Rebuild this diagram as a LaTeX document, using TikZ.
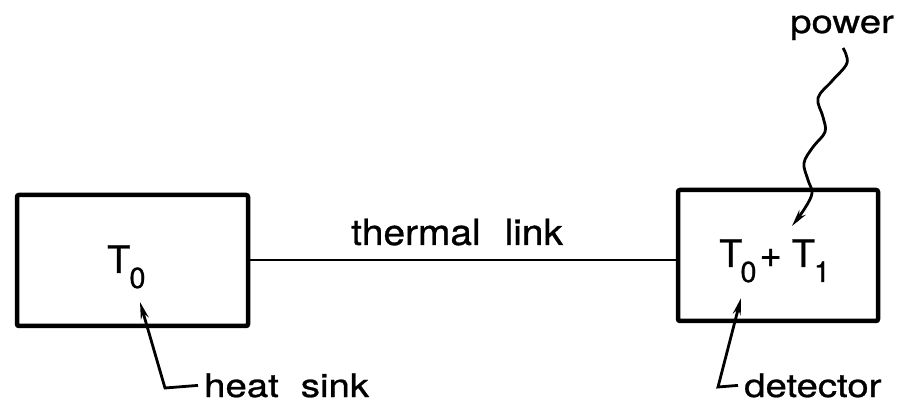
\documentclass[tikz,border=0pt]{standalone}
\usepackage{graphicx}
\usepackage{fontspec}
\setmainfont{TeX Gyre Heros}
\newfontfamily\lblfont{TeX Gyre Heros}[FakeBold=0.8]
\usetikzlibrary{arrows.meta}
% horizontally widened lettering
\newcommand\wide[2][1.18]{\scalebox{#1}[1]{#2}}
\newcommand\sub[1]{\raisebox{-15pt}{\fontsize{29}{30}\selectfont #1}}
\begin{document}
\begin{tikzpicture}[x=1pt,y=-1pt,
  box/.style={draw,line width=4.5pt,rounded corners=2pt},
  lbl/.style={font=\lblfont\fontsize{32.5}{36}\selectfont,inner sep=0pt},
  temp/.style={font=\lblfont\fontsize{38}{40}\selectfont,inner sep=0pt},
  leader/.style={line width=2.8pt,-{Stealth[length=17pt,width=8pt]}},
  link/.style={line width=2.8pt}]
\useasboundingbox (0,0) rectangle (899,411);
% heat sink and detector
\draw[box] (17,195) rectangle (248,326);
\draw[box] (678,190) rectangle (878,321);
\coordinate (sinkE) at (248,260);
\coordinate (detW) at (678,260);
\node[temp,anchor=base west] (t0) at (107,273) {T\kern-1pt\sub{0}};
\node[temp,anchor=base west] (t01) at (719,267) {T\kern-2pt\sub{0}\kern3pt+\kern10ptT\kern-1pt\sub{1}};
% thermal link
\draw[link] (sinkE) -- (detW);
\node[lbl,font=\lblfont\fontsize{36}{40}\selectfont,anchor=base west] (linklbl) at (351,245)
  {\wide[1.08]{thermal}\hspace{24pt}\wide[1.08]{link}};
% labels with leaders
\node[lbl,anchor=base west] (sink) at (204,397) {\wide{heat}\hspace{22pt}\wide{sink}};
\node[lbl,anchor=base west] (det) at (744,397) {\wide{detector}};
\coordinate (sinkC) at (165,388);
\coordinate (sinkT) at (140,302);
\coordinate (detC) at (718,387);
\coordinate (detT) at (741,298);
\draw[leader] ([xshift=-6pt]sink.west) -- (sinkC) -- (sinkT);
\draw[leader] ([xshift=-6pt]det.west) -- (detC) -- (detT);
% incoming power
\node[lbl,anchor=base west] (pow) at (790,33) {\wide{power}};
\draw[leader] plot[smooth,tension=0.6] coordinates {(843,48) (847,63) (832,81) (818,98) (823,117) (825,132) (813,147) (804,163) (808,180) (812,193) (805,208) (792,226)};
\end{tikzpicture}
\end{document}
